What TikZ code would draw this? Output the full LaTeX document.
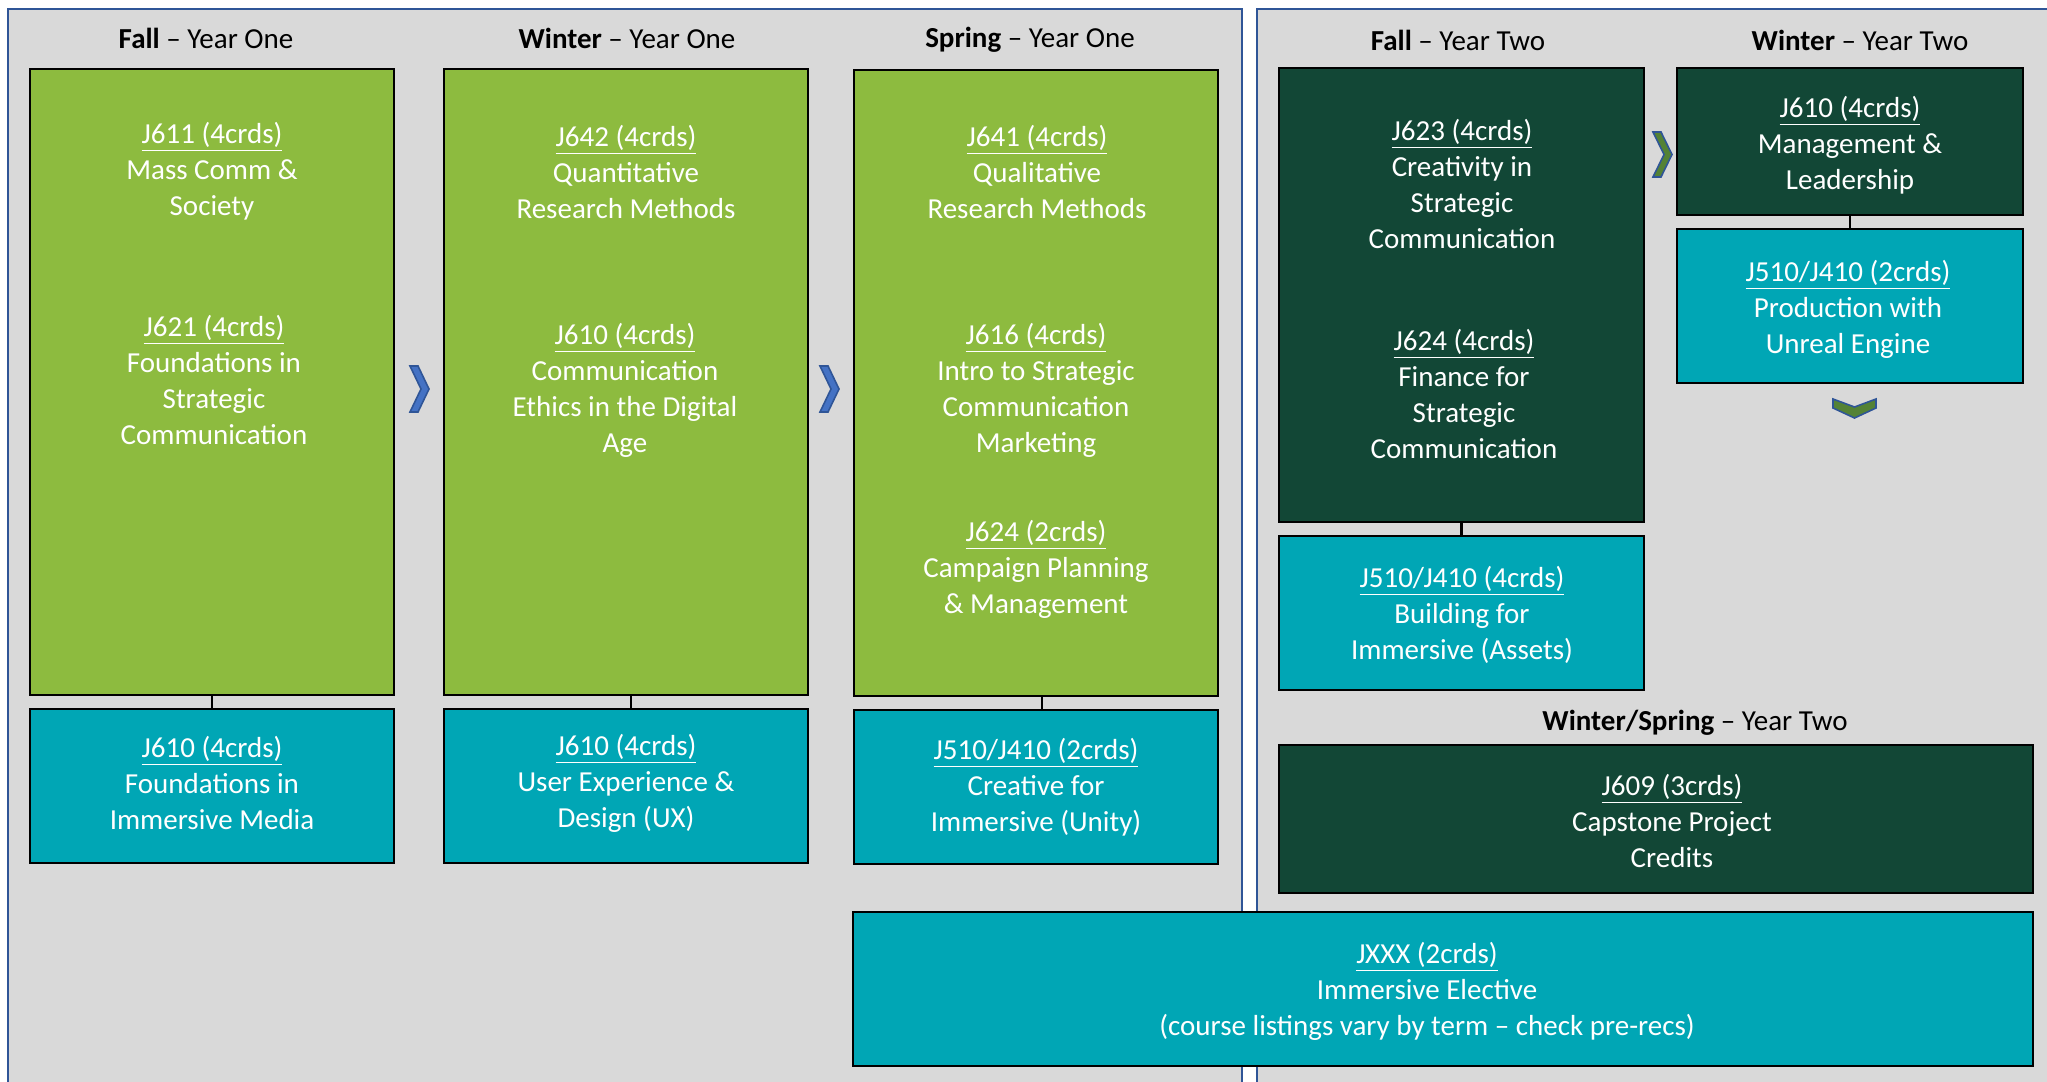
\documentclass[tikz,border=0pt]{standalone}
\usepackage{fontspec}
\setmainfont{Carlito}
\usetikzlibrary{fit}
\definecolor{bggray}{RGB}{217,217,217}
\definecolor{panelblue}{RGB}{47,85,151}
\definecolor{lgreen}{RGB}{141,187,63}
\definecolor{teal}{RGB}{0,166,181}
\definecolor{dgreen}{RGB}{18,71,54}
\definecolor{chevblue}{RGB}{68,114,196}
\definecolor{chevgreen}{RGB}{84,130,53}
\tikzset{
  panel/.style={fill=bggray, draw=panelblue, line width=1pt},
  cbox/.style={draw=black, line width=1.3pt, inner sep=0pt},
  gbox/.style={cbox, fill=lgreen},
  tbox/.style={cbox, fill=teal},
  dbox/.style={cbox, fill=dgreen},
  ctext/.style={text=white, align=center, inner sep=0pt, font=\fontsize{14.5}{18}\selectfont},
  htext/.style={text=black, inner sep=0pt, font=\fontsize{14.5}{18}\selectfont},
  link/.style={draw=black, line width=1.3pt},
  chevb/.style={fill=chevblue, draw=panelblue, line width=0.8pt, line join=miter},
  chevg/.style={fill=chevgreen, draw=panelblue, line width=0.8pt, line join=miter}
}
\begin{document}
\begin{tikzpicture}[x=0.5pt,y=-0.5pt]
\useasboundingbox (0,0) rectangle (2047,1082);
\clip (0,0) rectangle (2047,1082);
\fill[white] (0,0) rectangle (2047,1082);
% panels
\draw[panel] (8,9) rectangle (1242,1095);
\draw[panel] (1257,9) rectangle (2070,1095);
% headers
\node[htext] (h1) at (206,38) {\textbf{Fall} – Year One};
\node[htext] (h2) at (627,38) {\textbf{Winter} – Year One};
\node[htext] (h3) at (1030,40) {\textbf{Spring} – Year One};
\node[htext] (h4) at (1458,40) {\textbf{Fall} – Year Two};
\node[htext] (h5) at (1860,40) {\textbf{Winter} – Year Two};
\node[htext] (h6) at (1695,723) {\textbf{Winter/Spring} – Year Two};
% boxes
\node[gbox, fit={(30,69)(394,695)}] (f1) {};
\node[tbox, fit={(30,709)(394,863)}] (f1b) {};
\node[gbox, fit={(444,69)(808,695)}] (w1) {};
\node[tbox, fit={(444,709)(808,863)}] (w1b) {};
\node[gbox, fit={(854,70)(1218,696)}] (s1) {};
\node[tbox, fit={(854,710)(1218,864)}] (s1b) {};
\node[tbox, fit={(853,912)(2033,1066)}] (jx) {};
\node[dbox, fit={(1279,68)(1644,522)}] (f2) {};
\node[tbox, fit={(1279,536)(1644,690)}] (f2b) {};
\node[dbox, fit={(1677,68)(2023,215)}] (w2) {};
\node[tbox, fit={(1677,229)(2023,383)}] (w2b) {};
\node[dbox, fit={(1279,745)(2033,893)}] (cp) {};
% connectors
\draw[link] (f1.south) -- (f1b.north);
\draw[link] ([xshift=2.5pt]w1.south) -- ([xshift=2.5pt]w1b.north);
\draw[link] ([xshift=3pt]s1.south) -- ([xshift=3pt]s1b.north);
\draw[link] (f2.south) -- (f2b.north);
\draw[link] (w2.south) -- (w2b.north);
% chevrons
\draw[chevb] (410,366) -- ++(8,0) -- ++(11,23) -- ++(-11,23) -- ++(-8,0) -- ++(11,-23) -- cycle;
\draw[chevb] (820,366) -- ++(8,0) -- ++(11,23) -- ++(-11,23) -- ++(-8,0) -- ++(11,-23) -- cycle;
\draw[chevg] (1653,132) -- ++(8,0) -- ++(11,22.5) -- ++(-11,22.5) -- ++(-8,0) -- ++(11,-22.5) -- cycle;
\draw[chevg] (1833,399) -- ++(21.5,8) -- ++(21.5,-8) -- ++(0,9) -- ++(-21.5,10) -- ++(-21.5,-10) -- cycle;
% texts
\node[ctext] (t1) at (212,171) {\underline{J611 (4crds)}\\Mass Comm \&\\Society};
\node[ctext] (t2) at (214,380) {\underline{J621 (4crds)}\\Foundations in\\Strategic\\Communication};
\node[ctext] (t3) at (212,783) {\underline{J610 (4crds)}\\Foundations in\\Immersive Media};
\node[ctext] (t4) at (626,172) {\underline{J642 (4crds)}\\Quantitative\\Research Methods};
\node[ctext] (t5) at (625,390) {\underline{J610 (4crds)}\\Communication\\Ethics in the Digital\\Age};
\node[ctext] (t6) at (626,783) {\underline{J610 (4crds)}\\User Experience \&\\Design (UX)};
\node[ctext] (t7) at (1037,172) {\underline{J641 (4crds)}\\Qualitative\\Research Methods};
\node[ctext] (t8) at (1036,390) {\underline{J616 (4crds)}\\Intro to Strategic\\Communication\\Marketing};
\node[ctext] (t9) at (1036,569) {\underline{J624 (2crds)}\\Campaign Planning\\\& Management};
\node[ctext] (t10) at (1036,787) {\underline{J510/J410 (2crds)}\\Creative for\\Immersive (Unity)};
\node[ctext] (t11) at (1462,184) {\underline{J623 (4crds)}\\Creativity in\\Strategic\\Communication};
\node[ctext] (t12) at (1464,394) {\underline{J624 (4crds)}\\Finance for\\Strategic\\Communication};
\node[ctext] (t13) at (1462,615) {\underline{J510/J410 (4crds)}\\Building for\\Immersive (Assets)};
\node[ctext] (t14) at (1850,145) {\underline{J610 (4crds)}\\Management \&\\Leadership};
\node[ctext] (t15) at (1848,309) {\underline{J510/J410 (2crds)}\\Production with\\Unreal Engine};
\node[ctext] (t16) at (1672,821) {\underline{J609 (3crds)}\\Capstone Project\\Credits};
\node[ctext] (t17) at (1427,991) {\underline{JXXX (2crds)}\\Immersive Elective\\(course listings vary by term – check pre-recs)};
\end{tikzpicture}
\end{document}
